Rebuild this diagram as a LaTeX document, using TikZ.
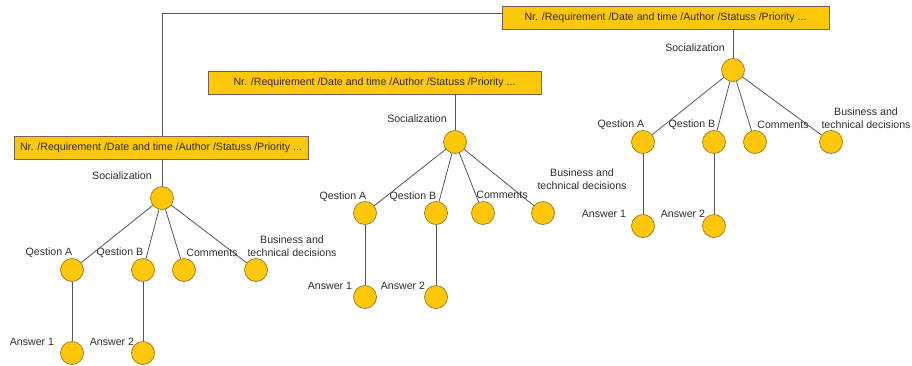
\documentclass[tikz,border=0pt]{standalone}
\usepackage{fontspec}
\setmainfont{Liberation Sans}
\definecolor{gold}{RGB}{255,199,10}
\definecolor{rim}{RGB}{150,120,40}
\definecolor{boxrim}{RGB}{110,100,80}
\definecolor{wire}{RGB}{85,85,85}
\definecolor{ink}{RGB}{45,45,45}
\begin{document}
\begin{tikzpicture}[x=1pt,y=-1pt,
  dot/.style={circle,minimum size=23pt,inner sep=0pt,fill=gold,draw=rim,line width=0.7pt},
  hdr/.style={rectangle,fill=gold,draw=boxrim,line width=0.8pt,minimum height=23pt,inner sep=0pt,text=ink,font=\fontsize{10.6}{13}\selectfont},
  lbl/.style={inner sep=0pt,text=ink,font=\fontsize{10.6}{13}\selectfont,align=center},
  wireline/.style={draw=wire,line width=0.8pt}]
\useasboundingbox (0,0) rectangle (912,365);
% headers
\node[hdr,minimum width=294pt] (b1) at (161,148) {Nr. /Requirement /Date and time /Author /Statuss /Priority ...};
\node[hdr,minimum width=333pt] (b2) at (374.5,82.5) {Nr. /Requirement /Date and time /Author /Statuss /Priority ...};
\node[hdr,minimum width=327pt] (b3) at (665.5,17.5) {Nr. /Requirement /Date and time /Author /Statuss /Priority ...};
% tree 1
\node[dot] (s1) at (162,198) {};
\node[dot] (a1) at (72,270) {};
\node[dot] (q1) at (143,270) {};
\node[dot] (c1) at (184,270) {};
\node[dot] (d1) at (256,270) {};
\node[dot] (r1) at (72,353) {};
\node[dot] (t1) at (143,353) {};
\node[lbl] (ls1) at (122,176) {Socialization};
\node[lbl] (la1) at (49,253) {Qestion A};
\node[lbl] (lq1) at (120,253) {Qestion B};
\node[lbl] (lc1) at (212,253) {Comments};
\node[lbl] (ld1) at (292,246.5) {Business and\\technical decisions};
\node[lbl] (lr1) at (32,342) {Answer 1};
\node[lbl] (lt1) at (112,342) {Answer 2};
% tree 2
\node[dot] (s2) at (455,142) {};
\node[dot] (a2) at (365,213) {};
\node[dot] (q2) at (436,213) {};
\node[dot] (c2) at (483,213) {};
\node[dot] (d2) at (543,213) {};
\node[dot] (r2) at (365,297) {};
\node[dot] (t2) at (436,297) {};
\node[lbl] (ls2) at (417,119) {Socialization};
\node[lbl] (la2) at (343,197) {Qestion A};
\node[lbl] (lq2) at (413,197) {Qestion B};
\node[lbl] (lc2) at (502,195) {Comments};
\node[lbl] (ld2) at (582,179.5) {Business and\\technical decisions};
\node[lbl] (lr2) at (330,286) {Answer 1};
\node[lbl] (lt2) at (403,286) {Answer 2};
% tree 3
\node[dot] (s3) at (733,70) {};
\node[dot] (a3) at (643,142) {};
\node[dot] (q3) at (714,142) {};
\node[dot] (c3) at (755,142) {};
\node[dot] (d3) at (831,142) {};
\node[dot] (r3) at (643,226) {};
\node[dot] (t3) at (714,226) {};
\node[lbl] (ls3) at (695,48) {Socialization};
\node[lbl] (la3) at (621,125) {Qestion A};
\node[lbl] (lq3) at (692,125) {Qestion B};
\node[lbl] (lc3) at (783,125) {Comments};
\node[lbl] (ld3) at (866,118.5) {Business and\\technical decisions};
\node[lbl] (lr3) at (604,214) {Answer 1};
\node[lbl] (lt3) at (683,214) {Answer 2};
% connectors
\coordinate (j) at (162,13);
\draw[wireline] (b1.north -| s1) -- (j) -- (j -| b3.west);
\foreach \i in {1,2,3}{
  \draw[wireline] (b\i.south -| s\i) -- (s\i);
  \draw[wireline] (s\i) -- (a\i);
  \draw[wireline] (s\i) -- (q\i);
  \draw[wireline] (s\i) -- (c\i);
  \draw[wireline] (s\i) -- (d\i);
  \draw[wireline] (a\i) -- (r\i);
  \draw[wireline] (q\i) -- (t\i);
}
\end{tikzpicture}
\end{document}
